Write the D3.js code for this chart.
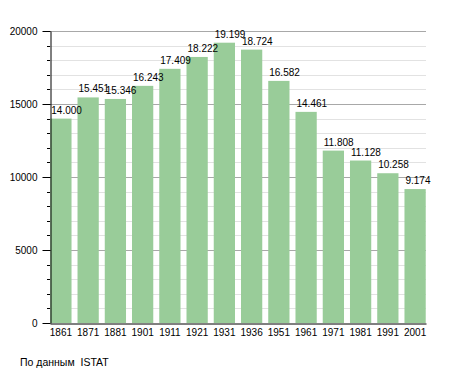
<!DOCTYPE html>
<html>
<head>
<meta charset="utf-8">
<script src="https://cdn.jsdelivr.net/npm/d3@7"></script>
<style>
  body { margin: 0; background: #fff; }
  text { font-family: "Liberation Sans", Arial, sans-serif; fill: #000; }
</style>
</head>
<body>
<script>
// data
var years = ["1861", "1871", "1881", "1901", "1911", "1921", "1931",
             "1936", "1951", "1961", "1971", "1981", "1991", "2001"];
var population = [14000, 15451, 15346, 16243, 17409, 18222, 19199,
                  18724, 16582, 14461, 11808, 11128, 10258, 9174];
var yTicks = [0, 5000, 10000, 15000, 20000];
var source = "По данным  ISTAT";

// canvas
var width = 455, height = 373;
var plotLeft = 50, plotRight = 426, plotTop = 31, plotBottom = 323;

var svg = d3.select("body").append("svg")
    .attr("width", width)
    .attr("height", height);

var x = d3.scaleBand().domain(years).range([plotLeft, plotRight])
    .paddingInner(0.22).paddingOuter(0.01);
var y = d3.scaleLinear().domain([0, 20000]).range([plotBottom, plotTop]);

var it = d3.formatLocale({decimal: ",", thousands: ".", grouping: [3], currency: ["", ""]});
var fmt = it.format(",.0f");

// minor gridlines every 1000
var minor = d3.range(1000, 20001, 1000).filter(function(d) { return d % 5000 != 0; });
svg.append("g").selectAll("line")
    .data(minor)
    .enter().append("line")
    .attr("x1", plotLeft).attr("x2", plotRight)
    .attr("y1", function(d) { return Math.round(y(d)) + 0.5; })
    .attr("y2", function(d) { return Math.round(y(d)) + 0.5; })
    .attr("stroke", "#e2e2e2");

// major gridlines
svg.append("g").selectAll("line")
    .data(yTicks.slice(1))
    .enter().append("line")
    .attr("x1", plotLeft).attr("x2", plotRight)
    .attr("y1", function(d) { return Math.round(y(d)) + 0.5; })
    .attr("y2", function(d) { return Math.round(y(d)) + 0.5; })
    .attr("stroke", "#a8a8a8");

// bars
svg.append("g").selectAll("rect")
    .data(population)
    .enter().append("rect")
    .attr("x", function(d, i) { return x(years[i]); })
    .attr("y", function(d) { return y(d); })
    .attr("width", x.bandwidth())
    .attr("height", function(d) { return plotBottom - y(d); })
    .attr("fill", "#99cc99");

// value labels
svg.append("g").selectAll("text")
    .data(population)
    .enter().append("text")
    .attr("x", function(d, i) { return x(years[i]) + 1; })
    .attr("y", function(d) { return y(d) - 5; })
    .attr("font-size", "10px")
    .text(function(d) { return fmt(d); });

// y axis
var yAxis = d3.axisLeft(y).tickValues(yTicks).tickFormat(d3.format("d"))
    .tickSize(8).tickSizeOuter(0).tickPadding(5);
var gy = svg.append("g")
    .attr("transform", "translate(" + (plotLeft + 0.5) + ",0)")
    .call(yAxis);
gy.select(".domain").attr("stroke", "#000");
gy.selectAll("text").attr("font-size", "10px").attr("font-family", "Liberation Sans, Arial, sans-serif");

// minor ticks on y axis
svg.append("g").selectAll("line")
    .data(minor)
    .enter().append("line")
    .attr("x1", plotLeft - 3).attr("x2", plotLeft)
    .attr("y1", function(d) { return Math.round(y(d)) + 0.5; })
    .attr("y2", function(d) { return Math.round(y(d)) + 0.5; })
    .attr("stroke", "#000");

// x axis
var xAxis = d3.axisBottom(x).tickSize(0).tickPadding(5);
var gx = svg.append("g")
    .attr("transform", "translate(0," + (plotBottom + 0.5) + ")")
    .call(xAxis);
gx.select(".domain").attr("stroke", "#000");
gx.selectAll("text").attr("font-size", "10px").attr("font-family", "Liberation Sans, Arial, sans-serif");

// source note
svg.append("text")
    .attr("x", 20)
    .attr("y", 366)
    .attr("font-size", "10.5px")
    .style("white-space", "pre")
    .text(source);
</script>
</body>
</html>
